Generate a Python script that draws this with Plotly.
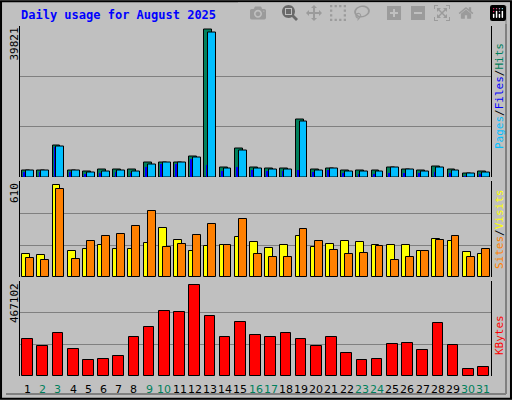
import plotly.graph_objects as go

days = list(range(1, 32))
hits = [1750,1750,8320,1750,1490,2010,2010,2010,3850,3850,3850,5520,38720,2540,7530,2540,2280,2280,15150,2010,2280,1750,1750,1750,2540,2010,1750,2800,2010,960,1490]
files = [1750,1750,8060,1750,1230,1490,1750,1490,3330,3850,3850,5170,37930,2280,7010,2280,2010,2010,14630,1750,2280,1490,1490,1490,2540,2010,1490,2540,1750,960,1230]
pages = [1400,1400,8000,1500,1000,1200,1400,1200,2630,3600,3600,4900,3330,1800,2890,1900,1700,1700,2010,1500,1900,1200,800,1000,1300,1200,1100,1500,1200,500,800]
sites = [148,142,587,167,180,205,180,180,218,313,237,167,199,205,256,225,186,205,263,193,212,231,225,205,205,205,167,244,231,161,148]
visits = [123,110,561,116,231,263,275,326,421,193,212,269,339,205,371,148,129,129,307,231,174,148,155,199,110,129,167,237,263,129,180]
kbytes = [183600,149100,213100,134400,80300,85200,100000,193400,242600,321200,316300,449100,296700,193400,267200,203200,193400,213100,183600,149100,193400,114700,80300,85200,159000,163900,129500,262200,154100,36100,45900]
weekend = {2,3,9,10,16,17,23,24,30,31}
max_hits, max_visits, max_kb = 39821, 610, 467102

fig = go.Figure()
ln = dict(color="black", width=1)
def bar(y, ax, color, offset, width, line=ln):
    fig.add_trace(go.Bar(x=days, y=y, xaxis="x", yaxis=ax, marker=dict(color=color, line=line),
                         offset=offset, width=width, showlegend=False, hoverinfo="skip"))
bar(hits, "y", "#00805C", -0.36, 0.52)
bar(pages, "y", "#0000FF", -0.28, 0.14, dict(width=0))
bar(files, "y", "#00BFFF", -0.1, 0.52)
bar(sites, "y2", "#FFFF00", -0.36, 0.52)
bar(visits, "y2", "#FF8000", -0.1, 0.52)
bar(kbytes, "y3", "#FF0000", -0.35, 0.7)

W, H = 512, 400
def dom(top, bot):
    return [1 - bot / H, 1 - top / H]
yax = dict(showticklabels=False, ticks="", gridcolor="#808080", gridwidth=1, zeroline=False,
           showline=True, linecolor="black", linewidth=1, mirror=True)
fig.update_layout(
    width=W, height=H, margin=dict(l=0, r=0, t=0, b=0),
    paper_bgcolor="#C0C0C0", plot_bgcolor="#C0C0C0", barmode="overlay", bargap=0,
    xaxis=dict(domain=[20 / W, 491 / W], range=[0.5, 31.5], showticklabels=False, showgrid=False,
               zeroline=False, anchor="y3", showline=False),
    yaxis=dict(domain=dom(25.5, 177), range=[0, max_hits], tickvals=[max_hits / 3, 2 * max_hits / 3], anchor="x", **yax),
    yaxis2=dict(domain=dom(181, 277), range=[0, max_visits], tickvals=[max_visits / 3, 2 * max_visits / 3], anchor="x", **yax),
    yaxis3=dict(domain=dom(281, 376), range=[0, max_kb], tickvals=[max_kb / 3, 2 * max_kb / 3], anchor="x", **yax),
    font=dict(family="DejaVu Sans Mono"),
)
ann = []
mono = "DejaVu Sans Mono"
ann.append(dict(text="<b>Daily usage for August 2025</b>", x=19 / W, y=1 - 15 / H, xanchor="left", yanchor="middle",
                font=dict(color="#0000FF", size=12, family=mono)))
for val, ytop in [(max_hits, 26), (max_visits, 181), (max_kb, 281)]:
    ann.append(dict(text=str(val), x=14 / W, y=1 - ytop / H, textangle=-90, xanchor="center", yanchor="top",
                    font=dict(color="black", size=11, family=mono)))
def rlabel(parts, ycen):
    t = '<span style="color:black">/</span>'.join(f'<span style="color:{c}">{s}</span>' for s, c in parts)
    ann.append(dict(text=t, x=499 / W, y=1 - ycen / H, textangle=-90, xanchor="center", yanchor="middle",
                    font=dict(size=11, family=mono)))
rlabel([("Pages", "#00BFFF"), ("Files", "#0000FF"), ("Hits", "#00805C")], 96)
rlabel([("Sites", "#FF8000"), ("Visits", "#FFFF00")], 229)
rlabel([("KBytes", "#FF0000")], 335)
for d in days:
    ann.append(dict(text=str(d), x=(20 + (d - 0.5) * 471 / 31) / W, y=1 - 389 / H, xanchor="center", yanchor="middle",
                    font=dict(size=11, family="DejaVu Sans", color="#00805C" if d in weekend else "black")))
for a in ann:
    a.update(xref="paper", yref="paper", showarrow=False)
fig.update_layout(annotations=ann, shapes=[
    dict(type="rect", xref="paper", yref="paper", x0=0.002, y0=0.003, x1=0.998, y1=0.997, line=dict(color="black", width=2)),
    dict(type="line", xref="paper", yref="paper", x0=6 / W, x1=506 / W, y0=1 - 394 / H, y1=1 - 394 / H, line=dict(color="#808080", width=2)),
    dict(type="line", xref="paper", yref="paper", x0=506 / W, x1=506 / W, y0=1 - 394 / H, y1=1 - 6 / H, line=dict(color="#808080", width=2)),
])
fig.write_html("out.html", post_script="document.body.style.margin='0';document.body.style.overflow='hidden';")
